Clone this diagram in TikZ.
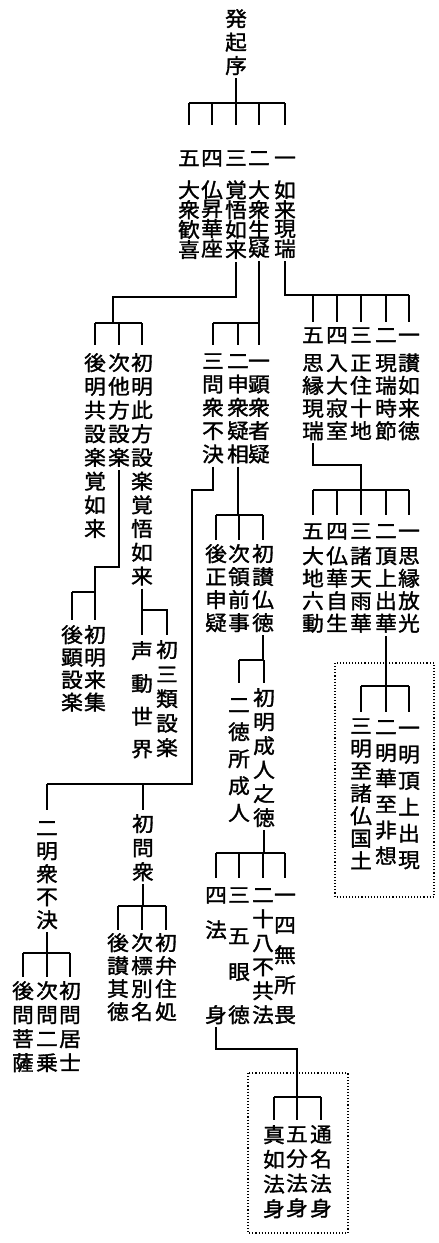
\documentclass[tikz,border=0pt]{standalone}
\usepackage{fontspec}
\newfontfamily\cjk[FakeStretch=1.06,FakeBold=1.5]{Noto Sans CJK JP}
\newcommand{\kph}{\vphantom{国}}
\tikzset{
  vc/.style={font={\cjk\fontsize{20.5}{#1}\selectfont}, align=center, inner sep=0pt, anchor=north},
  ln/.style={line width=1.3pt},
  dbox/.style={line width=1.1pt, dash pattern=on 1.1pt off 2pt}
}
\begin{document}
\begin{tikzpicture}[x=1pt,y=-1pt]
\useasboundingbox (0,0) rectangle (439,1243);
% root
\node[vc=23.5] (r) at (236,9) {\kph{}発\\起\\序};
% A
\node[vc=18.7] (a1) at (189,149) {\kph{}五\\[12.3pt]大\\衆\\歓\\喜};
\node[vc=18.7] (a2) at (212,149) {\kph{}四\\[12.3pt]仏\\昇\\華\\座};
\node[vc=18.7] (a3) at (236,149) {\kph{}三\\[12.3pt]覚\\悟\\如\\来};
\node[vc=18.7] (a4) at (259,149) {\kph{}二\\[12.3pt]大\\衆\\生\\疑};
\node[vc=18.7] (a5) at (285,149) {\kph{}一\\[12.3pt]如\\来\\現\\瑞};
% L
\node[vc=23.7] (l1) at (95,353) {\kph{}後\\明\\共\\設\\楽\\覚\\如\\来};
\node[vc=23.7] (l2) at (119,353) {\kph{}次\\他\\方\\設\\楽};
\node[vc=23.7] (l3) at (142,353) {\kph{}初\\明\\此\\方\\設\\楽\\覚\\悟\\如\\来};
\node[vc=22.5] (l2a) at (72,625) {\kph{}後\\顕\\設\\楽};
\node[vc=22.5] (l2b) at (95,625) {\kph{}初\\明\\来\\集};
\node[vc=32.7] (l3a) at (142,641) {\kph{}声\\動\\世\\界};
\node[vc=24.5] (l3b) at (167,640) {\kph{}初\\三\\類\\設\\楽};
% M
\node[vc=23.3] (m3) at (213,352) {\kph{}三\\問\\衆\\不\\決};
\node[vc=23.3] (m2) at (238,352) {\kph{}二\\申\\衆\\疑\\相};
\node[vc=23.3] (m1) at (259,352) {\kph{}一\\顕\\衆\\者\\疑};
\node[vc=23] (mb3) at (216,544) {\kph{}後\\正\\申\\疑};
\node[vc=23] (mb2) at (239,544) {\kph{}次\\領\\前\\事};
\node[vc=23] (mb1) at (263,544) {\kph{}初\\讃\\仏\\徳};
\node[vc=27] (mc2) at (239,696) {\kph{}二\\徳\\所\\成\\人};
\node[vc=24] (mc1) at (264,688) {\kph{}初\\明\\成\\人\\之\\徳};
\node[vc=20] (md4) at (216,886) {\kph{}四\\[15pt]法\\[65pt]身};
\node[vc=20] (md3) at (239,886) {\kph{}三\\[21pt]五\\[16pt]眼\\[23pt]徳};
\node[vc=24] (md2) at (263,886) {\kph{}二\\十\\八\\不\\共\\法};
\node[vc=30] (md1) at (285,886) {\kph{}一\\四\\無\\所\\畏};
\node[vc=24.7] (me3) at (274,1125) {\kph{}真\\如\\法\\身};
\node[vc=24.7] (me2) at (297,1125) {\kph{}五\\分\\法\\身};
\node[vc=24.7] (me1) at (321,1125) {\kph{}通\\名\\法\\身};
% N
\node[vc=23] (n2) at (47,819) {\kph{}二\\明\\衆\\不\\決};
\node[vc=24] (n1) at (143,814) {\kph{}初\\問\\衆};
\node[vc=24] (na3) at (23,981) {\kph{}後\\問\\菩\\薩};
\node[vc=24] (na2) at (47,981) {\kph{}次\\問\\二\\乗};
\node[vc=24] (na1) at (70,981) {\kph{}初\\問\\居\\士};
\node[vc=23] (nb3) at (118,933) {\kph{}後\\讃\\其\\徳};
\node[vc=23] (nb2) at (142,933) {\kph{}次\\標\\別\\名};
\node[vc=23] (nb1) at (166,933) {\kph{}初\\弁\\住\\処};
% B
\node[vc=22.7] (b5) at (313,326) {\kph{}五\\[5.3pt]思\\縁\\現\\瑞};
\node[vc=22.7] (b4) at (337,326) {\kph{}四\\[5.3pt]入\\大\\寂\\室};
\node[vc=22.7] (b3) at (361,326) {\kph{}三\\[5.3pt]正\\住\\十\\地};
\node[vc=22.7] (b2) at (386,326) {\kph{}二\\[5.3pt]現\\瑞\\時\\節};
\node[vc=22.7] (b1) at (409,326) {\kph{}一\\[5.3pt]讃\\如\\来\\徳};
% C
\node[vc=22.5] (c5) at (313,522) {\kph{}五\\[2.5pt]大\\地\\六\\動};
\node[vc=22.5] (c4) at (337,522) {\kph{}四\\[2.5pt]仏\\華\\自\\生};
\node[vc=22.5] (c3) at (361,522) {\kph{}三\\[2.5pt]諸\\天\\雨\\華};
\node[vc=22.5] (c2) at (386,522) {\kph{}二\\[2.5pt]頂\\上\\出\\華};
\node[vc=22.5] (c1) at (409,522) {\kph{}一\\[2.5pt]思\\縁\\放\\光};
% D
\node[vc=22.5] (d3) at (361,717) {\kph{}三\\明\\至\\諸\\仏\\国\\土};
\node[vc=25.8] (d2) at (386,718) {\kph{}二\\明\\華\\至\\非\\想};
\node[vc=26.4] (d1) at (409,719) {\kph{}一\\明\\頂\\上\\出\\現};

% coordinates
\coordinate (barA) at (0,103); \coordinate (tA) at (0,125);
\coordinate (hL) at (113,297); \coordinate (barL) at (0,323); \coordinate (tL) at (0,345);
\coordinate (barB) at (0,295); \coordinate (tB) at (0,322);
\coordinate (hB) at (0,465); \coordinate (barC) at (0,490); \coordinate (tC) at (0,515);
\coordinate (barD) at (0,686); \coordinate (tD) at (0,712);
\coordinate (hL2) at (0,567); \coordinate (barL2) at (0,592); \coordinate (tL2) at (0,620);
\coordinate (barL3) at (0,610); \coordinate (tL3) at (0,635);
\coordinate (hM3) at (192,490); \coordinate (barN) at (0,784); \coordinate (tN) at (0,810);
\coordinate (barMb) at (0,515); \coordinate (tMb) at (0,540);
\coordinate (barMc) at (0,660); \coordinate (tMc) at (0,683);
\coordinate (barMd) at (0,853); \coordinate (tMd) at (0,878);
\coordinate (hMd) at (0,1049); \coordinate (barMe) at (0,1097); \coordinate (tMe) at (0,1120);
\coordinate (barNa) at (0,953); \coordinate (tNa) at (0,977);
\coordinate (barNb) at (0,906); \coordinate (tNb) at (0,930);

% root
\draw[ln] ([yshift=-3pt]r.south) -- (r |- barA);
\draw[ln] (a1 |- barA) -- (a5 |- barA);
\foreach \n in {a1,a2,a3,a4,a5} \draw[ln] (\n |- barA) -- (\n |- tA);
% A3 -> L
\draw[ln] ([yshift=-3pt]a3.south) -- (a3 |- hL) -- (hL) -- (hL |- barL);
\draw[ln] (l1 |- barL) -- (l3 |- barL);
\foreach \n in {l1,l2,l3} \draw[ln] (\n |- barL) -- (\n |- tL);
% A4 -> M
\draw[ln] ([yshift=-3pt]a4.south) -- (a4 |- barL);
\draw[ln] (m3 |- barL) -- (m1 |- barL);
\foreach \n in {m1,m2,m3} \draw[ln] (\n |- barL) -- (\n |- tL);
% A5 -> B
\draw[ln] ([yshift=-3pt]a5.south) -- (a5 |- barB) -- (b1 |- barB);
\foreach \n in {b1,b2,b3,b4,b5} \draw[ln] (\n |- barB) -- (\n |- tB);
% B5 -> C
\draw[ln] ([yshift=-3pt]b5.south) -- (b5 |- hB) -- (c3 |- hB) -- (c3 |- barC);
\draw[ln] (c5 |- barC) -- (c1 |- barC);
\foreach \n in {c1,c2,c3,c4,c5} \draw[ln] (\n |- barC) -- (\n |- tC);
% C2 -> D
\draw[ln] ([yshift=-3pt]c2.south) -- (c2 |- barD);
\draw[ln] (d3 |- barD) -- (d1 |- barD);
\foreach \n in {d1,d2,d3} \draw[ln] (\n |- barD) -- (\n |- tD);
% L2 -> l2a, l2b
\draw[ln] ([yshift=-3pt]l2.south) -- (l2 |- hL2) -- (l2b |- hL2) -- (l2b |- barL2);
\draw[ln] (l2a |- barL2) -- (l2b |- barL2);
\foreach \n in {l2a,l2b} \draw[ln] (\n |- barL2) -- (\n |- tL2);
% L3 -> l3a, l3b
\draw[ln] ([yshift=-3pt]l3.south) -- (l3 |- barL3) -- (l3b |- barL3) -- (l3b |- tL3);
\draw[ln] (l3a |- barL3) -- (l3a |- tL3);
% M3 -> N
\draw[ln] ([yshift=-3pt]m3.south) -- (m3 |- hM3) -- (hM3) -- (hM3 |- barN) -- (n2 |- barN);
\foreach \n in {n1,n2} \draw[ln] (\n |- barN) -- (\n |- tN);
% M2 -> Mb
\draw[ln] ([yshift=-3pt]m2.south) -- (m2 |- barMb);
\draw[ln] (mb3 |- barMb) -- (mb1 |- barMb);
\foreach \n in {mb1,mb2,mb3} \draw[ln] (\n |- barMb) -- (\n |- tMb);
% Mb1 -> Mc
\draw[ln] ([yshift=-3pt]mb1.south) -- (mb1 |- barMc);
\draw[ln] (mc2 |- barMc) -- (mc1 |- barMc);
\foreach \n in {mc1,mc2} \draw[ln] (\n |- barMc) -- (\n |- tMc);
% Mc1 -> Md
\draw[ln] ([yshift=-3pt]mc1.south) -- (mc1 |- barMd);
\draw[ln] (md4 |- barMd) -- (md1 |- barMd);
\foreach \n in {md1,md2,md3,md4} \draw[ln] (\n |- barMd) -- (\n |- tMd);
% Md4 -> Me
\draw[ln] ([yshift=-3pt]md4.south) -- (md4 |- hMd) -- (me2 |- hMd) -- (me2 |- barMe);
\draw[ln] (me3 |- barMe) -- (me1 |- barMe);
\foreach \n in {me1,me2,me3} \draw[ln] (\n |- barMe) -- (\n |- tMe);
% N2 -> Na
\draw[ln] ([yshift=-3pt]n2.south) -- (n2 |- barNa);
\draw[ln] (na3 |- barNa) -- (na1 |- barNa);
\foreach \n in {na1,na2,na3} \draw[ln] (\n |- barNa) -- (\n |- tNa);
% N1 -> Nb
\draw[ln] ([yshift=-3pt]n1.south) -- (n1 |- barNb);
\draw[ln] (nb3 |- barNb) -- (nb1 |- barNb);
\foreach \n in {nb1,nb2,nb3} \draw[ln] (\n |- barNb) -- (\n |- tNb);
% dotted boxes
\draw[dbox] (335,663) rectangle (434,897);
\draw[dbox] (248,1073) rectangle (348,1233);
\end{tikzpicture}
\end{document}
